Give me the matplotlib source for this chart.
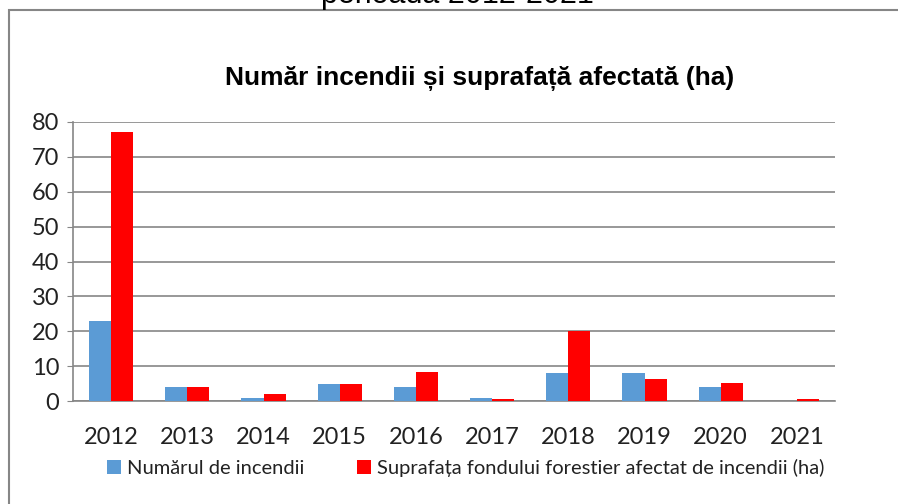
import matplotlib.pyplot as plt
import numpy as np
from matplotlib.patches import Rectangle

# Date
ani = ["2012", "2013", "2014", "2015", "2016", "2017", "2018", "2019", "2020", "2021"]
nr_incendii = [23, 4, 1, 5, 4, 1, 8, 8, 4, 0]
suprafata = [77, 4, 2, 5, 8.4, 0.7, 20, 6.4, 5.3, 0.6]

albastru = "#5B9BD5"
rosu = "#FF0000"
gri = "#868686"

fig = plt.figure(figsize=(8.98, 5.04), dpi=100)

# chenar exterior al graficului
fig.patches.append(Rectangle((9 / 898, -0.05), 1.0, 1 - 10 / 504 + 0.05,
                             transform=fig.transFigure, fill=False,
                             edgecolor=gri, linewidth=1.5))

# text de deasupra, taiat de marginea imaginii
fig.text(457 / 898, 1 - 3 / 504, "perioada 2012-2021", ha="center", va="baseline",
         fontsize=22, family="Liberation Sans")

fig.text(480 / 898, 1 - 85 / 504, "Număr incendii și suprafață afectată (ha)",
         ha="center", va="baseline", fontsize=19, fontweight="bold",
         family="Liberation Sans")

ax = fig.add_axes([73 / 898, 1 - 401 / 504, (835 - 73) / 898, (401 - 122) / 504])

x = np.arange(len(ani))
w = 0.29
ax.bar(x - w / 2, nr_incendii, w, color=albastru, label="Numărul de incendii", zorder=3)
ax.bar(x + w / 2, suprafata, w, color=rosu,
       label="Suprafața fondului forestier afectat de incendii (ha)", zorder=3)

ax.set_xlim(-0.5, len(ani) - 0.5)
ax.set_ylim(0, 80)
ax.set_yticks(range(0, 81, 10))
ax.set_xticks(x)
ax.set_xticklabels(ani)
ax.yaxis.grid(True, color=gri, linewidth=1.2, zorder=0)

for s in ["top", "right"]:
    ax.spines[s].set_visible(False)
for s in ["left", "bottom"]:
    ax.spines[s].set_color(gri)
    ax.spines[s].set_linewidth(1.2)

ax.tick_params(axis="y", length=4, color=gri, labelsize=17, pad=6)
ax.tick_params(axis="x", length=0, labelsize=17, pad=19)
for lbl in ax.get_xticklabels() + ax.get_yticklabels():
    lbl.set_family("Lato")
    lbl.set_color("#222222")

leg = fig.legend(loc="center", bbox_to_anchor=(466 / 898, 1 - 468 / 504), ncol=2,
                 frameon=False, prop={"family": "Lato", "size": 14.5},
                 handlelength=0.7, handleheight=0.7, handletextpad=0.3,
                 columnspacing=2.6)
for t in leg.get_texts():
    t.set_color("#222222")

fig.savefig("out.png", dpi=100)
